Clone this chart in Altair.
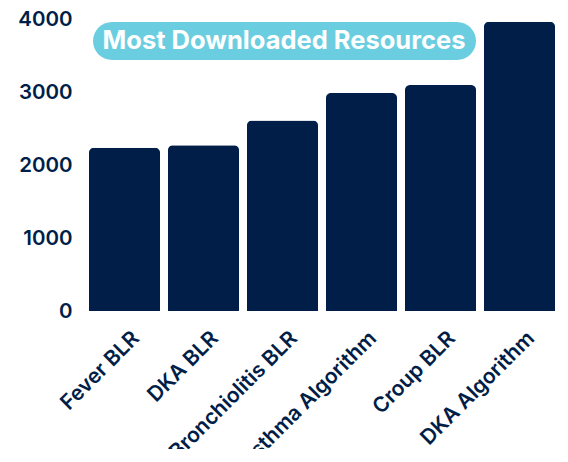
import altair as alt
import pandas as pd

resources = ["Fever BLR", "DKA BLR", "Bronchiolitis BLR", "Asthma Algorithm", "Croup BLR", "DKA Algorithm"]
downloads = [2236, 2270, 2610, 2986, 3096, 3964]
y_ticks = [0, 1000, 2000, 3000, 4000]
title_text = "Most Downloaded Resources"

df = pd.DataFrame({"resource": resources, "downloads": downloads})

NAVY = "#001E48"
PILL = "#6BCEE0"
FONT = "Inter"

bars = alt.Chart(df).mark_bar(
    color=NAVY, cornerRadiusTopLeft=5, cornerRadiusTopRight=5
).encode(
    x=alt.X("resource:N", sort=resources, title=None,
            scale=alt.Scale(paddingInner=0.1, paddingOuter=0.05),
            axis=alt.Axis(labelAngle=-45, labelFontSize=21, labelFont=FONT,
                          labelFontWeight=600, labelColor=NAVY, ticks=False,
                          domain=False, labelPadding=16, labelOffset=4, labelLimit=300)),
    y=alt.Y("downloads:Q", title=None,
            scale=alt.Scale(domain=[0, 4000], nice=False),
            axis=alt.Axis(values=y_ticks, grid=False, domain=False, ticks=False,
                          format="d",
                          labelFontSize=20.5, labelFont=FONT, labelFontWeight=600,
                          labelColor=NAVY, labelPadding=13)),
)

pill = alt.Chart(pd.DataFrame({"t": [title_text]})).mark_rect(
    color=PILL, cornerRadius=19
).encode(
    x=alt.value(8), x2=alt.value(391), y=alt.value(3), y2=alt.value(41)
)

title = alt.Chart(pd.DataFrame({"t": [title_text]})).mark_text(
    color="white", font=FONT, fontSize=25.5, fontWeight="bold", align="center", baseline="middle"
).encode(
    text="t:N", x=alt.value(199), y=alt.value(22)
)

chart = alt.layer(bars, pill, title).properties(
    width=474, height=292,
    background="white",
    autosize=alt.AutoSizeParams(type="none"),
    padding={"left": 77, "top": 11, "right": 0, "bottom": 138},
).configure_view(stroke=None, strokeWidth=0)

chart.save("out.html", embed_options={"renderer": "svg", "actions": False})
